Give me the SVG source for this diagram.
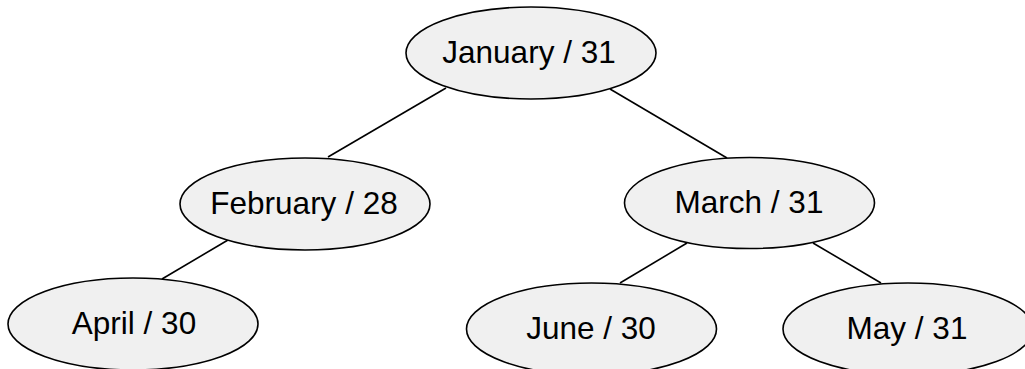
<svg xmlns="http://www.w3.org/2000/svg" width="1025" height="369" viewBox="0 0 1025 369">
<style>
.node ellipse{fill:#f0f0f0;stroke:#000;stroke-width:1.6}
.node text{font-family:"Liberation Sans",Arial,sans-serif;font-size:31.5px;fill:#000;text-anchor:middle}
.edges line{stroke:#000;stroke-width:1.6}
</style>
<rect width="1025" height="369" fill="#fff"/>
<g id="edges" class="edges">
<line x1="446" y1="88" x2="328" y2="157"/>
<line x1="610" y1="89" x2="727" y2="158"/>
<line x1="228" y1="240" x2="162" y2="279"/>
<line x1="687" y1="243" x2="620" y2="283"/>
<line x1="813" y1="243" x2="881" y2="283"/>
</g>
<g id="january" class="node"><ellipse cx="531" cy="53" rx="125" ry="46"/><text x="529" y="63">January / 31</text></g>
<g id="february" class="node"><ellipse cx="305" cy="204" rx="125" ry="46"/><text x="304" y="214">February / 28</text></g>
<g id="march" class="node"><ellipse cx="749.5" cy="203" rx="125" ry="45.5"/><text x="749" y="213">March / 31</text></g>
<g id="april" class="node"><ellipse cx="133" cy="324" rx="125" ry="46"/><text x="134" y="334">April / 30</text></g>
<g id="june" class="node"><ellipse cx="591.5" cy="329" rx="125" ry="46"/><text x="591" y="339">June / 30</text></g>
<g id="may" class="node"><ellipse cx="908" cy="329" rx="125" ry="46"/><text x="907" y="339">May / 31</text></g>
</svg>
